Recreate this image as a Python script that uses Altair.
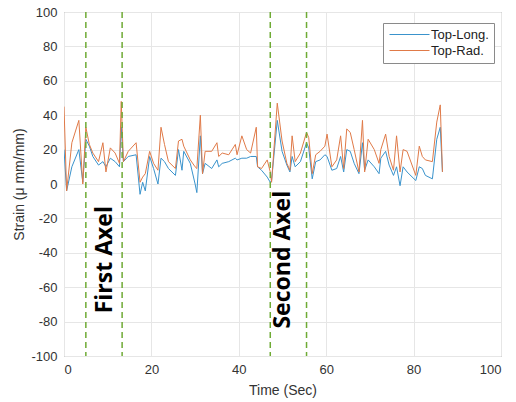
import altair as alt
import pandas as pd

time = [0.0, 0.6, 1.8, 3.4, 4.3, 5.0, 5.8, 6.6, 7.9, 8.9, 9.6, 10.6, 11.7, 12.7, 13.1, 13.6,
        14.7, 16.5, 17.4, 18.0, 18.6, 19.6, 20.5, 21.5, 22.2, 23.0, 23.9, 25.5, 26.2, 27.0,
        27.4, 28.9, 30.0, 30.4, 31.2, 31.7, 32.3, 33.8, 35.0, 35.4, 36.2, 37.7, 39.2, 39.6,
        40.7, 41.8, 42.7, 44.0, 44.3, 45.2, 46.5, 47.2, 47.5, 48.8, 49.9, 51.0, 51.7, 52.2,
        52.9, 54.1, 55.5, 56.0, 56.8, 57.6, 58.6, 59.7, 60.2, 61.3, 62.4, 63.3, 64.0, 64.7,
        65.5, 66.4, 67.5, 68.3, 68.8, 69.6, 71.0, 72.1, 72.5, 73.6, 74.4, 75.4, 76.1, 76.9,
        77.6, 78.5, 80.5, 81.3, 82.0, 82.7, 84.3, 85.3, 86.1, 86.6]
top_long = [20, -4, 10, 20, 1, 26, 22, 16, 11, 13, 10, 15, 13, 10, 33, 13,
            16, 17, -6, 1, -4, 16, 9, 0, 15, 13, 9, 5, 20, 8,
            19, 12, 0, -5, 28, 6, 12, 9, 14, 10, 12, 13, 15, 14,
            15, 15, 16, 16, 10, 8, 4, 1, 2, 37, 19, 11, 7, 16,
            10, 13, 24, 21, 3, 13, 14, 17, 16, 8, 9, 16, 7, 20,
            19, 12, 6, 24, 8, 14, 10, 6, 15, 19, 11, 5, 10, -1,
            10, 7, 2, 10, 9, 5, 3, 26, 33, 7]
top_rad = [45, -4, 24, 37, 0, 33, 23, 18, 13, 24, 7, 21, 18, 12, 48, 13,
           19, 24, 1, 4, 6, 19, 12, 8, 33, 23, 13, 9, 25, 26,
           22, 14, 10, 9, 40, 6, 19, 19, 24, 16, 18, 17, 23, 17,
           28, 20, 18, 33, 10, 9, 14, 7, 1, 47, 25, 12, 8, 28,
           13, 18, 30, 27, 6, 17, 19, 22, 29, 10, 14, 28, 9, 32,
           30, 20, 7, 37, 7, 26, 20, 12, 20, 29, 16, 8, 28, 7,
           20, 19, 5, 22, 16, 14, 13, 36, 46, 7]

series_names = ["Top-Long.", "Top-Rad."]
series_colors = ["#3a93cc", "#e07a48"]
axle_times = [5.0, 13.3, 47.2, 55.5]
axle_labels = ["First Axel", "Second Axel"]
label_x = [9.4, 50.1]
label_y = [-44, -44]
x_ticks = [0, 20, 40, 60, 80, 100]
y_ticks = list(range(-100, 101, 20))

rows = []
for name, vals in zip(series_names, [top_long, top_rad]):
    for t, v in zip(time, vals):
        rows.append({"t": t, "v": v, "s": name})
df = pd.DataFrame(rows)
axle_df = pd.DataFrame({"t": axle_times})
lab_df = pd.DataFrame({"t": label_x, "v": label_y, "txt": axle_labels})

xs = alt.Scale(domain=[0, 100], nice=False)
ys = alt.Scale(domain=[-100, 100], nice=False)
minus_expr = "datum.value < 0 ? '-' + abs(datum.value) : '' + datum.value"

x_axis = alt.Axis(values=x_ticks, title="Time (Sec)", labelOverlap=False,
                  titleY=34, titleBaseline="middle")
y_axis = alt.Axis(values=y_ticks, title="Strain (μ mm/mm)", labelOverlap=False,
                  labelExpr=minus_expr, titleX=-45, titleY=172, titleAngle=270,
                  titleBaseline="middle", titleAlign="center")

X = alt.X("t:Q", scale=xs, axis=x_axis)
Y = alt.Y("v:Q", scale=ys, axis=y_axis)

lines = alt.Chart(df).mark_line(strokeWidth=1, clip=True).encode(
    x=X, y=Y,
    color=alt.Color("s:N", scale=alt.Scale(domain=series_names, range=series_colors),
                    legend=alt.Legend(title=None, orient="none", legendX=319, legendY=11,
                                      symbolType="M-4,0H4", symbolSize=100,
                                      symbolOffset=15, labelOffset=15,
                                      symbolStrokeWidth=1, labelFontSize=13,
                                      labelFont="Liberation Sans", labelColor="#222",
                                      padding=5, rowPadding=2,
                                      strokeColor="#8a8a8a", fillColor="white")),
    detail="s:N",
)

rules = alt.Chart(axle_df).mark_rule(color="#6fab35", strokeWidth=1.5, strokeDash=[6, 4]).encode(
    x=X
)

texts = alt.Chart(lab_df).mark_text(angle=270, font="Open Sans", fontWeight="bold", fontSize=23,
                                    color="black", align="center", baseline="middle").encode(
    x=X, y=Y, text="txt:N"
)

chart = alt.layer(lines, rules, texts).properties(
    width=437, height=344,
    autosize=alt.AutoSizeParams(type="none"),
    padding={"left": 64, "top": 12, "right": 15, "bottom": 46},
).configure_axis(
    grid=True, gridColor="#e6e6e6", gridWidth=1, domain=False, ticks=False,
    labelFont="Liberation Sans", labelFontSize=13, labelColor="#333", labelOverlap=False,
    titleFont="Liberation Sans", titleFontSize=14, titleFontWeight="normal", titleColor="#333",
    labelPadding=7,
).configure_view(stroke="#808080", strokeWidth=1)

chart.save("out.html", embed_options={"renderer": "svg", "actions": False})
